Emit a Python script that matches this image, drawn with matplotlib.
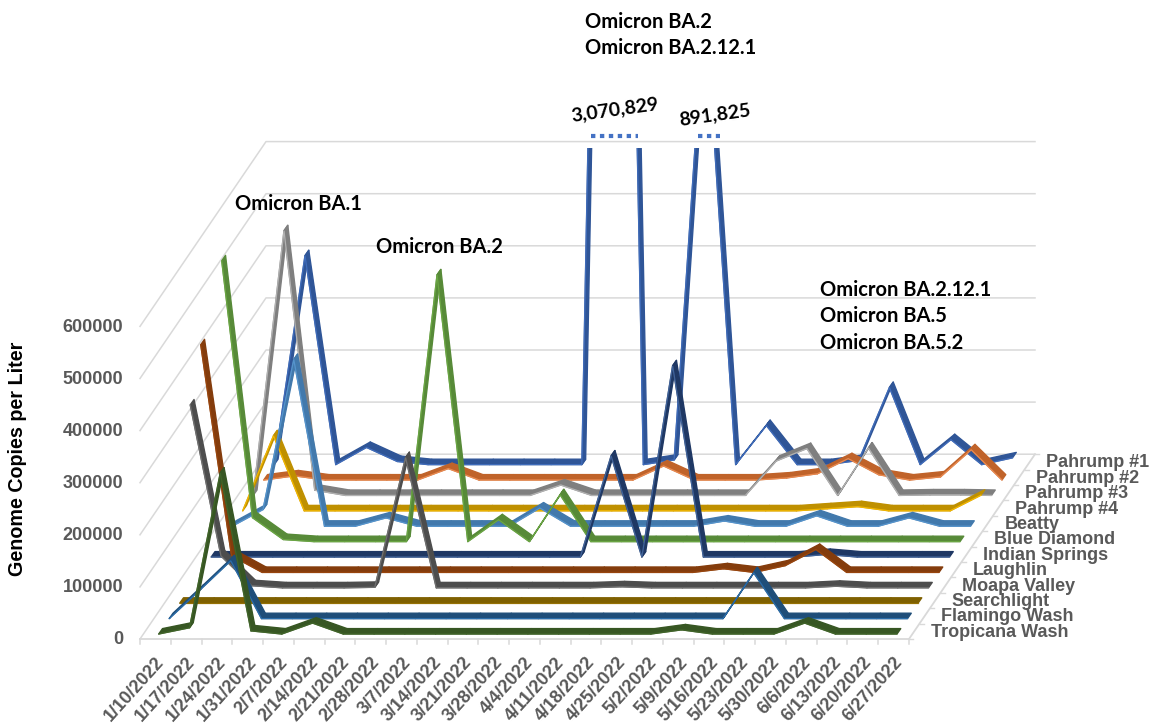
"""Oblique 3D line chart of wastewater genome copies, one ribbon per sewershed."""

import matplotlib
matplotlib.use("Agg")
import matplotlib.pyplot as plt
from matplotlib.collections import PolyCollection
from matplotlib.patches import Rectangle
import numpy as np

DATES = ["1/10/2022", "1/17/2022", "1/24/2022", "1/31/2022", "2/7/2022", "2/14/2022", "2/21/2022",
         "2/28/2022", "3/7/2022", "3/14/2022", "3/21/2022", "3/28/2022", "4/4/2022", "4/11/2022",
         "4/18/2022", "4/25/2022", "5/2/2022", "5/9/2022", "5/16/2022", "5/23/2022", "5/30/2022",
         "6/6/2022", "6/13/2022", "6/20/2022", "6/27/2022"]

# front to back
SITES = ["Tropicana Wash", "Flamingo Wash", "Searchlight", "Moapa Valley", "Laughlin", "Indian Springs",
         "Blue Diamond", "Beatty", "Pahrump #4", "Pahrump #3", "Pahrump #2", "Pahrump #1"]

tropicana = [0, 12000, 309000, 6000, 0, 21000, 0, 0, 0, 0, 0, 0, 0, 0, 0, 0, 0, 8000, 0, 0, 0, 21000, 0, 0, 0]
flamingo = [0, 55000, 111000, 0, 0, 0, 0, 0, 0, 0, 0, 0, 0, 0, 0, 0, 0, 0, 0, 88000, 0, 0, 0, 0, 0]
searchlight = [0, 0, 0, 0, 0, 0, 0, 0, 0, 0, 0, 0, 0, 0, 0, 0, 0, 0, 0, 0, 0, 0, 0, 0, 0]
moapa = [351000, 61000, 4000, 0, 0, 0, 1000, 250000, 0, 0, 0, 0, 0, 0, 2000, 0, 0, 0, 0, 0, 0, 3000, 0, 0, 0]
laughlin = [437000, 32000, 0, 0, 0, 0, 0, 0, 0, 0, 0, 0, 0, 0, 0, 0, 0, 7000, 0, 13000, 44000, 0, 0, 0, 0]
indian_springs = [0, 0, 0, 0, 0, 0, 0, 0, 0, 0, 0, 0, 0, 194000, 0, 367000, 0, 0, 0, 0, 5000, 0, 0, 0, 0]
blue_diamond = [539000, 46000, 4000, 0, 0, 0, 0, 512000, 0, 42000, 0, 90000, 0, 0, 0, 0, 0, 0, 0, 0, 0, 0, 0, 0, 0]
beatty = [0, 32000, 320000, 0, 0, 16000, 0, 0, 0, 0, 35000, 0, 0, 0, 0, 0, 10000, 0, 0, 20000, 0, 0, 16000, 0, 0]
pahrump4 = [0, 144000, 0, 0, 0, 0, 0, 0, 0, 0, 0, 0, 0, 0, 0, 0, 0, 0, 0, 4000, 8000, 0, 0, 0, 30000]
pahrump3 = [0, 508000, 10000, 0, 0, 0, 0, 0, 0, 0, 20000, 0, 0, 0, 0, 0, 0, 66000, 90000, 0, 91000, 0, 1000, 1000, 0]
pahrump2 = [0, 8000, 0, 0, 0, 0, 22000, 0, 0, 0, 0, 0, 0, 27000, 0, 0, 0, 4000, 12000, 41000, 10000, 0, 6000, 58000, 0]
pahrump1 = [0, 401000, 0, 33000, 6000, 0, 0, 0, 0, 0, 0, 3070829, 0, 9000, 891825, 0, 75000, 0, 0, 8000, 148000, 0, 48000, 0, 13000]

SERIES = [tropicana, flamingo, searchlight, moapa, laughlin, indian_springs,
          blue_diamond, beatty, pahrump4, pahrump3, pahrump2, pahrump1]
FACE = ["#375623", "#1F4E79", "#7F6000", "#4D4D4D", "#843C0C", "#1F3864",
        "#578A38", "#4279AC", "#BF9000", "#7F7F7F", "#C0632A", "#2F5597"]
EDGE = ["#43682B", "#2E75B6", "#997300", "#7A7A7A", "#9E480E", "#4A6FA8",
        "#70AD47", "#5B9BD5", "#FFC000", "#BFBFBF", "#F4945A", "#4472C4"]

YTICKS = [0, 100000, 200000, 300000, 400000, 500000, 600000]
YMAX = 600000
VARIANTS = [("Omicron BA.2", 585, 22), ("Omicron BA.2.12.1", 585, 48), ("Omicron BA.1", 235, 204),
            ("Omicron BA.2", 376, 247), ("Omicron BA.2.12.1", 820, 290), ("Omicron BA.5", 820, 316),
            ("Omicron BA.5.2", 820, 343)]

# pixel geometry of the box
X0, Y0 = 140.0, 639.0
CAT_W = 30.76
DEPTH_X, DEPTH_Y = 10.5, -15.4
PX_PER = 52.1 / 100000
RIB_X, RIB_Y = 1.9, -2.7
GREY = "#595959"
GRID = "#D9D9D9"


def proj(i, s, v):
    """category index (may be fractional), series depth and value -> pixel x, y"""
    x = X0 + (np.asarray(i) + 0.5) * CAT_W + (s + 0.5) * DEPTH_X
    y = Y0 + (s + 0.5) * DEPTH_Y - np.asarray(v) * PX_PER
    return x, y


fig = plt.figure(figsize=(11.49, 7.26), dpi=100)
ax = fig.add_axes([0, 0, 1, 1])
ax.set_xlim(0, 1149)
ax.set_ylim(726, 0)
ax.axis("off")

ns = len(SERIES)
nc = len(DATES)
back_x, back_y = ns * DEPTH_X, ns * DEPTH_Y
right = X0 + nc * CAT_W

# walls and floor
for t in YTICKS:
    y = Y0 - t * PX_PER
    ax.plot([X0, X0 + back_x, right + back_x], [y, y + back_y, y + back_y], color=GRID, lw=1.1, zorder=1)
    ax.text(123, y + 1, str(t), ha="right", va="center", fontsize=13, fontweight="bold",
            family="Liberation Sans", color=GREY)
ax.plot([X0, right, right + back_x], [Y0, Y0, Y0 + back_y], color=GRID, lw=1.3, zorder=1)
for k in range(nc + 1):
    x = X0 + k * CAT_W
    ax.plot([x, x], [Y0, Y0 + 5], color=GRID, lw=1.1, zorder=1)
for k in range(ns + 1):
    ax.plot([right + k * DEPTH_X, right + k * DEPTH_X + 4], [Y0 + k * DEPTH_Y] * 2, color=GRID, lw=1.0, zorder=1)

# ribbons, back to front
idx = np.arange(nc)
for s in range(ns - 1, -1, -1):
    xs, ys = proj(idx, s, SERIES[s])
    polys = []
    for a in range(nc - 1):
        polys.append([(xs[a] - RIB_X, ys[a] - RIB_Y), (xs[a + 1] - RIB_X, ys[a + 1] - RIB_Y),
                      (xs[a + 1] + RIB_X, ys[a + 1] + RIB_Y), (xs[a] + RIB_X, ys[a] + RIB_Y)])
    _, top = proj(0, s, YMAX)
    clip = Rectangle((0, top - 1), 1149, 726, transform=ax.transData)
    pc = PolyCollection(polys, facecolors=FACE[s], edgecolors=FACE[s], linewidths=1.0, zorder=10 + 2 * (ns - s))
    ax.add_collection(pc)
    pc.set_clip_path(clip)
    ln, = ax.plot(xs - RIB_X, ys - RIB_Y, color=EDGE[s], lw=0.9, alpha=0.8, zorder=11 + 2 * (ns - s),
                  solid_joinstyle="miter")
    ln.set_clip_path(clip)
    lx, ly = proj(nc - 0.5, s, 0)
    ax.text(lx + 16.5, ly + 1, SITES[s], ha="left", va="center", fontsize=13, fontweight="bold",
            family="Liberation Sans", color=GREY, zorder=50)

# dotted stubs over the two off-scale peaks of Pahrump #1
s_top = ns - 1
vals = np.array(SERIES[s_top], dtype=float)
for pk, pad in zip(np.where(vals > YMAX)[0], [-1.5, 3]):
    f = YMAX / vals[pk]
    x1, _ = proj(pk - 1 + f, s_top, YMAX)
    x2, _ = proj(pk + 1 - f, s_top, YMAX)
    _, yt = proj(pk, s_top, YMAX)
    ax.plot([x1 + 1, x2 + pad], [yt - 13, yt - 13], color="#4472C4", lw=3, ls=(0, (1.05, 1.09)),
            dash_capstyle="butt", zorder=60)

# off-scale value labels
ax.text(615, 110, "3,070,829", rotation=8, ha="center", va="center", fontsize=14, fontweight="bold",
        family="Lato", color="black", zorder=70)
ax.text(715, 115, "891,825", rotation=8, ha="center", va="center", fontsize=14, fontweight="bold",
        family="Lato", color="black", zorder=70)
for txt, x, y in VARIANTS:
    ax.text(x, y, txt, ha="left", va="center", fontsize=14.5, fontweight="bold", family="Lato",
            color="black", zorder=70)

for k, d in enumerate(DATES):
    x = X0 + (k + 0.5) * CAT_W
    ax.text(x, Y0 + 15, d, rotation=48, rotation_mode="anchor", ha="right", va="top",
            fontsize=13, fontweight="bold", family="Liberation Sans", color=GREY)

ax.text(18, 459, "Genome Copies per Liter", rotation=90, ha="center", va="center", fontsize=14.2,
        fontweight="bold", family="Liberation Sans", color="black")

fig.savefig("out.png", dpi=100)
